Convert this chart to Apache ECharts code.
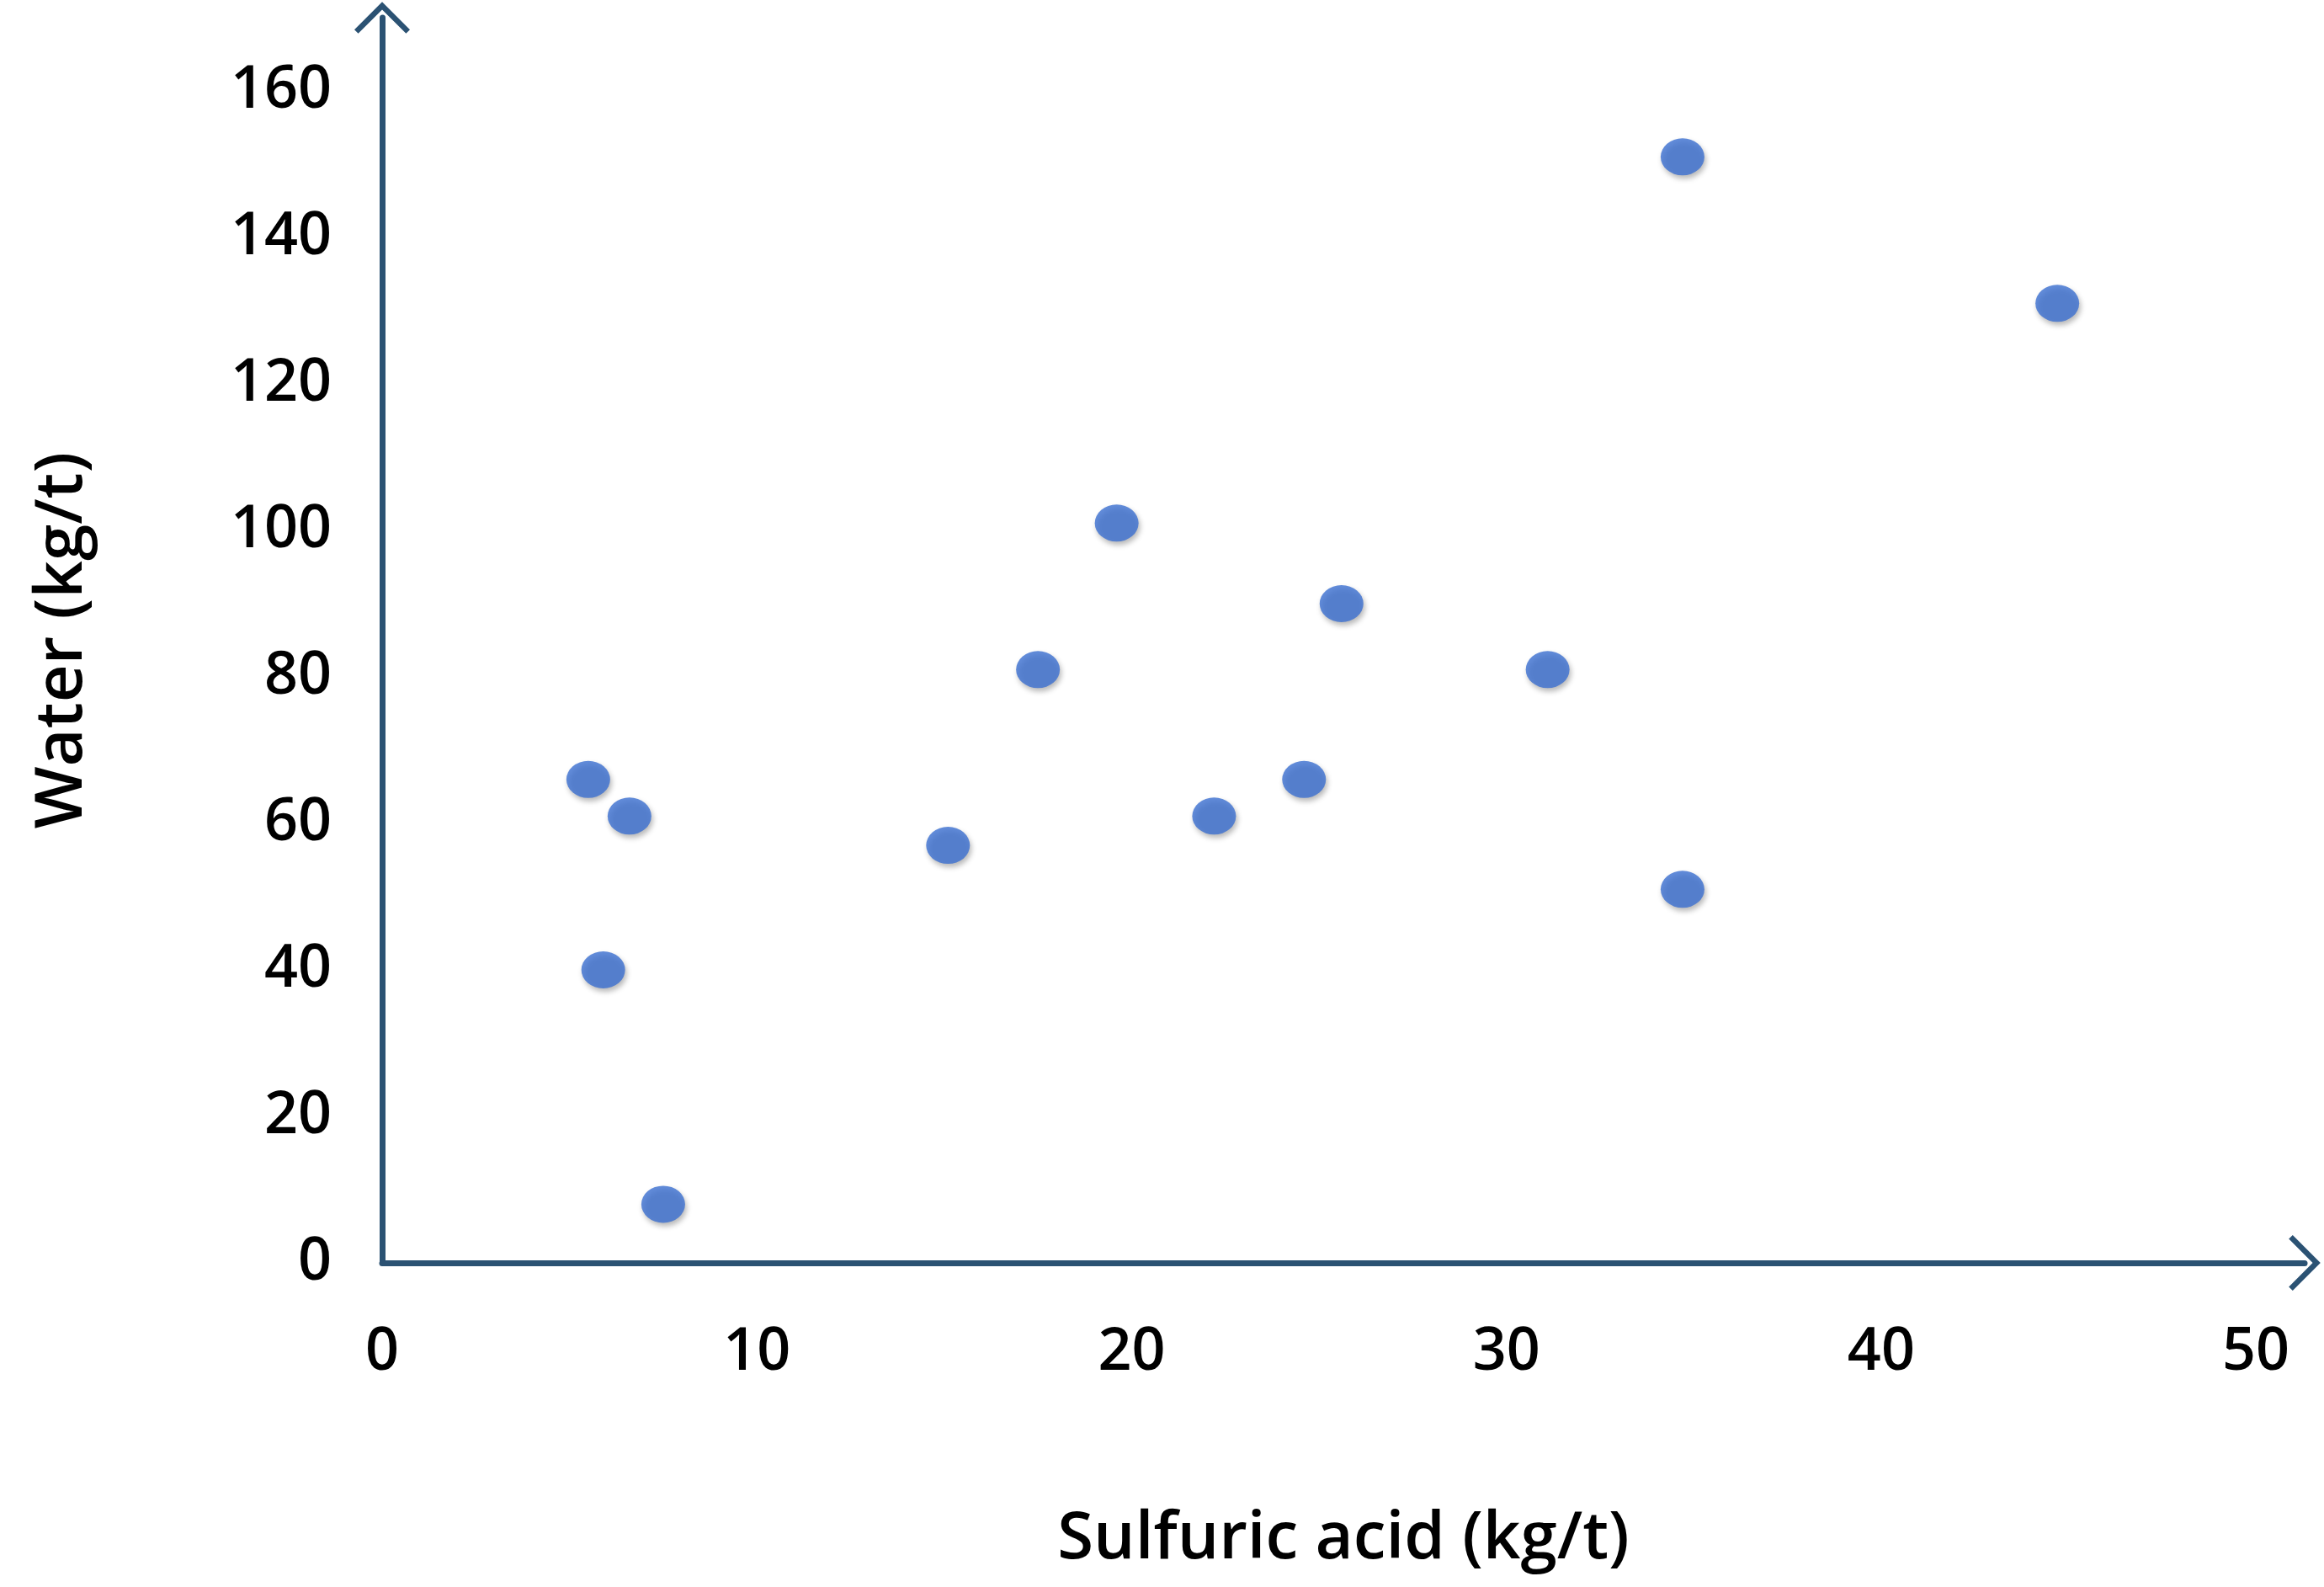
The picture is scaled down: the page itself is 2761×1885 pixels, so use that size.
<!DOCTYPE html>
<html lang="en">
<head>
<meta charset="UTF-8">
<title></title>
<script src="https://cdn.jsdelivr.net/npm/echarts@6/dist/echarts.min.js"></script>
<style>
html,body{margin:0;padding:0;background:#fff;}
#main{width:2761px;height:1885px;}
</style>
</head>
<body>
<div id="main"></div>
<script>
var acid  = [5.5, 6.6, 5.9, 7.5, 15.1, 17.5, 19.6, 22.2, 24.6, 25.6, 31.1, 34.7, 34.7, 44.7];
var water = [66, 61, 40, 8, 57, 81, 101, 61, 66, 90, 81, 151, 51, 131];
var xName = 'Sulfuric acid (kg/t)';
var yName = 'Water (kg/t)';

var pts = acid.map(function (a, i) { return [a, water[i]]; });
var axisColor = '#2b5273';
var font = 'Open Sans';
// open chevron arrow head
var chevron = 'path://M0,0 L10,10 L8.6,11.4 L0,2.8 L-8.6,11.4 L-10,10 Z';

var chart = echarts.init(document.getElementById('main'));
chart.setOption({
    animation: false,
    grid: {left: 454, right: 23, top: 21, bottom: 385},
    xAxis: {
        type: 'value', min: 0, max: 51.3, interval: 10,
        name: xName, nameLocation: 'middle', nameGap: 290,
        nameTextStyle: {fontFamily: font, fontSize: 78, fontWeight: 600, color: '#000'},
        splitLine: {show: false}, axisTick: {show: false},
        axisLine: {onZero: false, symbol: ['none', chevron], symbolSize: [66, 38],
            lineStyle: {color: axisColor, width: 7}},
        axisLabel: {fontFamily: font, fontSize: 70, fontWeight: 600, color: '#000', margin: 72, showMaxLabel: false}
    },
    yAxis: {
        type: 'value', min: 0, max: 170, interval: 20,
        name: yName, nameLocation: 'middle', nameGap: 340,
        nameTextStyle: {fontFamily: font, fontSize: 78, fontWeight: 600, color: '#000'},
        splitLine: {show: false}, axisTick: {show: false},
        axisLine: {onZero: false, symbol: ['none', chevron], symbolSize: [66, 38],
            lineStyle: {color: axisColor, width: 7}},
        axisLabel: {fontFamily: font, fontSize: 70, fontWeight: 600, color: '#000', margin: 60, showMaxLabel: false}
    },
    series: [{
        type: 'scatter',
        data: pts,
        symbolSize: [52, 44],
        itemStyle: {color: '#3b6fd1', shadowColor: 'rgba(0,0,0,0.35)', shadowBlur: 6, shadowOffsetX: 2, shadowOffsetY: 4}
    }]
});
</script>
</body>
</html>
